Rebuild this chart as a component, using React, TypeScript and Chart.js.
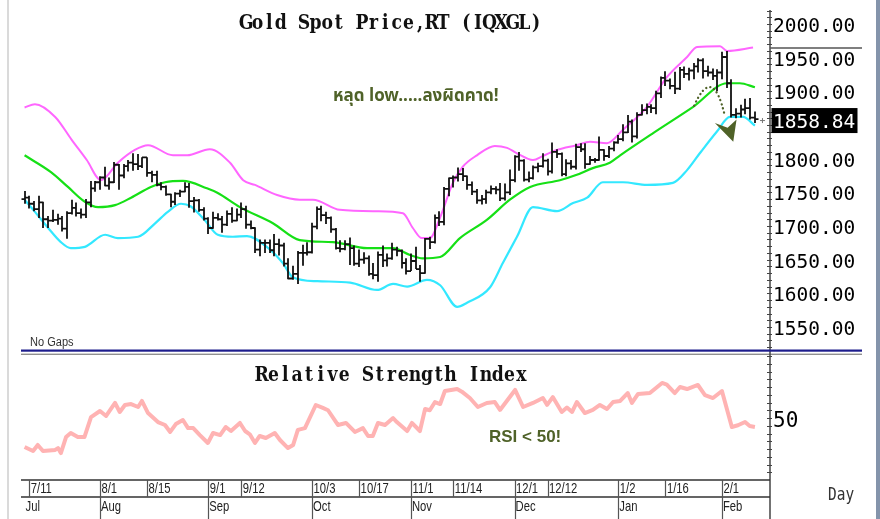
import React, { useEffect, useRef } from 'react';
import { Chart, registerables } from 'chart.js';
Chart.register(...registerables);

// ---- Daily OHLC (trading-day index 0 = 8 Jul 2022 ... 155 = 10 Feb 2023) ----
const opens = [
  1740,1742,1733,1725,1735,1710,1708,1709,1711,1696,
  1719,1727,1719,1717,1735,1756,1765,1772,1760,1765,
  1791,1775,1789,1794,1792,1789,1802,1779,1776,1761,
  1758,1747,1736,1748,1751,1758,1737,1738,1724,1711,
  1697,1712,1710,1702,1718,1708,1717,1725,1702,1697,
  1665,1675,1675,1664,1673,1671,1644,1622,1629,1660,
  1660,1661,1699,1725,1716,1712,1695,1667,1666,1673,
  1667,1644,1650,1652,1629,1627,1657,1649,1652,1665,
  1663,1645,1633,1648,1636,1630,1681,1676,1712,1706,
  1755,1771,1772,1777,1774,1761,1751,1738,1740,1750,
  1755,1754,1741,1750,1768,1803,1797,1769,1771,1787,
  1789,1797,1781,1810,1807,1777,1793,1788,1817,1814,
  1792,1798,1798,1813,1804,1815,1824,1829,1839,1855,
  1833,1865,1872,1877,1875,1897,1920,1916,1908,1904,
  1932,1926,1931,1937,1946,1930,1928,1923,1928,1951,
  1912,1865,1867,1873,1875,1861,
];
const highs = [
  1752,1745,1737,1745,1736,1715,1724,1718,1715,1722,
  1739,1735,1726,1740,1767,1767,1774,1788,1772,1795,
  1792,1792,1798,1808,1807,1802,1802,1782,1782,1765,
  1760,1748,1750,1754,1765,1764,1743,1740,1728,1713,
  1721,1719,1715,1723,1728,1726,1735,1730,1708,1698,
  1680,1680,1680,1688,1681,1675,1652,1641,1663,1672,
  1676,1705,1729,1730,1721,1714,1697,1679,1679,1683,
  1671,1665,1661,1656,1645,1662,1671,1659,1675,1669,
  1665,1652,1659,1669,1642,1682,1684,1717,1722,1758,
  1772,1775,1787,1786,1775,1766,1755,1746,1754,1760,
  1759,1764,1763,1784,1805,1810,1799,1781,1790,1794,
  1808,1800,1824,1814,1809,1799,1798,1822,1823,1823,
  1804,1801,1833,1814,1819,1826,1835,1851,1865,1858,
  1869,1881,1882,1881,1901,1922,1930,1919,1929,1936,
  1937,1935,1942,1949,1949,1938,1934,1933,1959,1960,
  1918,1875,1880,1889,1890,1870,
];
const lows = [
  1733,1726,1722,1712,1697,1697,1706,1702,1692,1681,
  1717,1714,1711,1712,1728,1751,1754,1759,1754,1764,
  1754,1771,1781,1782,1783,1786,1773,1765,1759,1753,
  1745,1728,1731,1743,1750,1727,1720,1721,1708,1688,
  1696,1708,1690,1700,1705,1707,1712,1696,1695,1660,
  1655,1660,1660,1655,1656,1640,1621,1620,1614,1641,
  1656,1659,1695,1707,1703,1690,1665,1661,1664,1642,
  1641,1639,1644,1626,1621,1617,1639,1640,1650,1655,
  1637,1628,1633,1636,1617,1629,1666,1674,1700,1701,
  1744,1757,1766,1767,1754,1746,1733,1732,1733,1747,
  1747,1737,1738,1746,1765,1782,1766,1765,1769,1780,
  1787,1775,1778,1801,1774,1774,1784,1784,1810,1785,
  1791,1794,1797,1797,1801,1811,1822,1826,1838,1824,
  1830,1864,1866,1868,1866,1890,1908,1903,1896,1902,
  1920,1916,1918,1928,1919,1922,1917,1900,1918,1905,
  1861,1860,1861,1866,1858,1853,
];
const closes = [
  1742,1733,1725,1735,1710,1708,1709,1711,1696,1719,
  1727,1719,1717,1735,1756,1765,1772,1760,1765,1791,
  1775,1789,1794,1792,1789,1802,1779,1776,1761,1758,
  1747,1736,1748,1751,1758,1737,1738,1724,1711,1697,
  1712,1710,1702,1718,1708,1717,1725,1702,1697,1665,
  1675,1675,1664,1673,1671,1644,1622,1629,1660,1660,
  1661,1699,1725,1716,1712,1695,1667,1666,1673,1667,
  1644,1650,1652,1629,1627,1657,1649,1652,1665,1663,
  1645,1633,1648,1636,1630,1681,1676,1712,1706,1755,
  1771,1772,1777,1774,1761,1751,1738,1740,1750,1755,
  1754,1741,1750,1768,1803,1797,1769,1771,1787,1789,
  1797,1781,1810,1807,1777,1793,1788,1817,1814,1792,
  1798,1798,1813,1804,1815,1824,1829,1839,1855,1833,
  1865,1872,1877,1875,1897,1920,1916,1908,1904,1932,
  1926,1931,1937,1946,1930,1928,1923,1928,1951,1912,
  1865,1867,1873,1875,1861,1858.84,
];

// ---- Bollinger bands, read at sample days ----
const upperIdx = [0,2.2,6.5,10,13.2,16.2,19.8,23.4,26.2,31.5,34.5,39.3,43.6,46.4,48.9,53.6,58.4,61.2,66.9,74.8,80.3,82.4,84.3,86,88.2,90.9,93,96,99.8,102.4,104.5,107.9,110,113,117.2,120,123.6,127,132.1,136.3,140.6,142.7,147.6,149.1,154.6];
const upperVal = [1876,1881,1862,1828,1798,1768,1794,1813,1820,1805,1805,1814,1794,1768,1761,1746,1739,1739,1724,1722,1719,1697,1682,1682,1713,1764,1788,1805,1819,1816,1808,1798,1804,1813,1820,1825,1823,1843,1877,1921,1951,1966,1967,1960,1965];
const midIdx = [0,5.6,9.2,12.8,15.6,19.2,22.6,26.8,29.8,33.6,38.7,41,45.7,52.7,58.4,65.4,72.7,78.2,81.8,84.5,88.2,92.4,98.1,103,107.3,113.6,117.2,120.6,124.2,126.4,133.4,141.9,149.1,151.8,155];
const midVal = [1805,1780,1758,1736,1728,1731,1742,1758,1765,1767,1756,1749,1728,1704,1679,1676,1667,1667,1657,1652,1654,1682,1709,1739,1758,1768,1776,1786,1794,1805,1838,1877,1912,1912,1906];
const lowIdx = [0,2.2,5,7.7,9.8,12.8,17.1,19.8,24.1,27.7,30.4,33.2,35.3,38.3,41,44.2,47.2,51.4,54.8,56.9,62.1,69.1,74.8,78.2,81.2,85.4,88.2,91.8,93.9,98.8,101.5,104.5,107.9,113,116.4,119.4,122.7,127,132.1,137.6,140.6,143.3,146.9,149.7,152.5,155];
const lowVal = [1739,1721,1697,1676,1667,1669,1687,1682,1684,1704,1721,1733,1729,1708,1687,1684,1685,1669,1645,1624,1618,1616,1605,1614,1610,1620,1612,1580,1586,1609,1645,1684,1728,1722,1734,1742,1765,1765,1761,1764,1783,1808,1840,1862,1862,1849];

// ---- RSI, read at sample days ----
const rsiIdx = [0,1.8,2.8,3.9,6.5,7.1,7.7,8.8,9.8,11.3,12.7,14.1,16,17.3,19.2,20.2,21.3,22.6,24.1,24.9,26.2,28.3,29.8,30.9,32.1,33.6,34.7,35.8,37.2,38.9,40,41.5,42.7,43.8,45.7,46.8,47.8,48.9,49.9,51.2,53.1,54.2,55.9,57,58,59.5,61.8,63.3,64.4,66.5,68.2,70.1,71.8,72.9,73.9,75,76.5,78.2,79,81.2,82.2,83.9,85,86,87.1,88.2,89.2,91.8,92.8,94.5,96.2,98.1,99.8,100.9,104.1,105.8,107.9,110,110.9,112.1,114,115.1,116.2,117.2,118.9,120.6,122.1,123.6,124.9,126.4,128,128.9,130.2,132.7,135.3,136.3,138,139.1,140.6,142.9,144.4,146.1,148,150.1,151.4,152.9,153.9,155];
const rsiVal = [31.3,28.7,32.6,28.7,29.4,30.6,27.4,37.7,40.3,37.7,37.7,50.6,54.5,51.3,59.7,53.9,58.4,59,57.1,61,53.2,47.4,45.5,41,46.1,48.7,43.5,43.5,39,33.9,40.3,39,44.2,41.6,46.8,41.6,39.5,33.9,38.4,37.1,40.3,35.8,30.6,32.6,42.3,43.5,58.4,56.5,55,45.5,46.8,41,43.5,38.4,38.4,46.8,45.5,50,47.4,41.6,46.8,41.6,55.8,55,60.3,59,67.4,68.7,67,62.9,57.1,59.7,60.3,55.2,68.1,57.1,59.7,62.9,58.5,63.5,53.9,56.8,53.9,60.3,53.2,55.2,58.4,55.8,60.3,61,66.1,59.7,65.5,66.1,72.6,71.5,66.1,70,68.7,71.3,64.8,62.9,67.4,44.2,45.3,47.4,44.8,44.2];

// ---- axes ----
const priceTicks = [1550,1600,1650,1700,1750,1800,1900,1950,2000];
const rsiTicks = [50];
const lastPrice = 1858.84;
const markerLevel = 1964.5;
const dateTickIdx = [1,16,26,39,46,61,71,82,91,104,111,126,136,148];
const dateTickLabels = ['7/11','8/1','8/15','9/1','9/12','10/3','10/17','11/1','11/14','12/1','12/12','1/2','1/16','2/1'];
const monthTickIdx = [0,16,39,61,82,104,126,148];
const monthLabels = ['Jul','Aug','Sep','Oct','Nov','Dec','Jan','Feb'];

// ---- annotations (day index, price) ----
const arcStart = [142.1, 1878.7];
const arcPeak = [145.7, 1906];
const arcEnd = [148.6, 1864];
const arrowPts = [[146.5,1853],[149.2,1846],[151.1,1858],[150.4,1825]];

const X_MIN = -0.76;
const X_MAX = 158.2;
const OLIVE = '#4f6228';

function monoText(ctx: any, text: string, cx: number, baseline: number, pitch: number, font: string, sx: number) {
  ctx.save();
  ctx.font = font;
  ctx.textAlign = 'center';
  ctx.textBaseline = 'alphabetic';
  ctx.fillStyle = '#111';
  const start = cx - (pitch * text.length) / 2;
  for (let i = 0; i < text.length; i++) {
    const ch = text[i];
    if (ch === ' ') continue;
    ctx.save();
    ctx.translate(start + pitch * (i + 0.5), baseline);
    ctx.scale(sx, 1);
    ctx.fillText(ch, 0, 0);
    ctx.restore();
  }
  ctx.restore();
}

function narrowText(ctx: any, text: string, x: number, y: number, font: string, sx: number, color: string) {
  ctx.save();
  ctx.font = font;
  ctx.textAlign = 'left';
  ctx.textBaseline = 'middle';
  ctx.fillStyle = color;
  ctx.translate(x, y);
  ctx.scale(sx, 1);
  ctx.fillText(text, 0, 0);
  ctx.restore();
}

function frame(chart: any) {
  const { ctx, height } = chart;
  ctx.save();
  ctx.fillStyle = '#dadada';
  ctx.fillRect(7, 0, 2, height);
  ctx.fillStyle = '#8494ab';
  ctx.fillRect(876, 0, 4, height);
  ctx.restore();
}

const whiteBg = {
  id: 'whiteBg',
  beforeDraw(chart: any) {
    const { ctx, width, height } = chart;
    ctx.save();
    ctx.fillStyle = '#fff';
    ctx.fillRect(0, 0, width, height);
    ctx.restore();
  },
};

const priceDecor = {
  id: 'priceDecor',
  afterDatasetsDraw(chart: any) {
    const { ctx } = chart;
    const xs = chart.scales.x;
    const ys = chart.scales.y;
    ctx.save();
    ctx.strokeStyle = '#111';
    ctx.lineWidth = 1.8;
    ctx.beginPath();
    for (let i = 0; i < closes.length; i++) {
      const x = Math.round(xs.getPixelForValue(i));
      ctx.moveTo(x, ys.getPixelForValue(highs[i]));
      ctx.lineTo(x, ys.getPixelForValue(lows[i]));
      const yo = ys.getPixelForValue(opens[i]);
      ctx.moveTo(x - 3.5, yo);
      ctx.lineTo(x, yo);
      const yc = ys.getPixelForValue(closes[i]);
      ctx.moveTo(x, yc);
      ctx.lineTo(x + 3.5, yc);
    }
    ctx.stroke();
    ctx.restore();
  },
  afterDraw(chart: any) {
    const { ctx, chartArea: a, height } = chart;
    const xs = chart.scales.x;
    const ys = chart.scales.y;
    frame(chart);
    ctx.save();
    // axis line
    ctx.strokeStyle = '#444';
    ctx.lineWidth = 1.5;
    ctx.beginPath();
    ctx.moveTo(a.right, a.top + 2);
    ctx.lineTo(a.right, height);
    ctx.stroke();
    // minor ticks
    ctx.lineWidth = 1;
    ctx.beginPath();
    for (let v = 1520; v <= 2020; v += 10) {
      const y = Math.round(ys.getPixelForValue(v)) + 0.5;
      ctx.moveTo(a.right - 3, y);
      ctx.lineTo(a.right + 2, y);
    }
    ctx.stroke();
    // marker line across axis
    const ym = ys.getPixelForValue(markerLevel);
    ctx.strokeStyle = '#555';
    ctx.lineWidth = 1.5;
    ctx.beginPath();
    ctx.moveTo(a.right, ym);
    ctx.lineTo(862, ym);
    ctx.stroke();
    // last price box
    const yl = ys.getPixelForValue(lastPrice);
    ctx.fillStyle = '#000';
    ctx.fillRect(a.right + 1.5, yl - 11, 86, 25);
    ctx.fillStyle = '#fff';
    ctx.font = '19.5px "DejaVu Sans Mono", monospace';
    ctx.textAlign = 'left';
    ctx.textBaseline = 'middle';
    ctx.fillText(lastPrice.toFixed(2), a.right + 3, yl + 3.5);
    // small cross at last price
    const xp = xs.getPixelForValue(156.6);
    ctx.strokeStyle = '#777';
    ctx.lineWidth = 1;
    ctx.beginPath();
    ctx.moveTo(xp - 2.5, yl + 1.5);
    ctx.lineTo(xp + 2.5, yl + 1.5);
    ctx.moveTo(xp, yl - 1);
    ctx.lineTo(xp, yl + 4);
    ctx.stroke();
    // dotted arc
    const p0 = [xs.getPixelForValue(arcStart[0]), ys.getPixelForValue(arcStart[1])];
    const pk = [xs.getPixelForValue(arcPeak[0]), ys.getPixelForValue(arcPeak[1])];
    const p2 = [xs.getPixelForValue(arcEnd[0]), ys.getPixelForValue(arcEnd[1])];
    const cp = [2 * pk[0] - (p0[0] + p2[0]) / 2, 2 * pk[1] - (p0[1] + p2[1]) / 2];
    ctx.strokeStyle = OLIVE;
    ctx.lineWidth = 2.3;
    ctx.lineCap = 'round';
    ctx.setLineDash([0.1, 4.2]);
    ctx.beginPath();
    ctx.moveTo(p0[0], p0[1]);
    ctx.quadraticCurveTo(cp[0], cp[1], p2[0], p2[1]);
    ctx.stroke();
    ctx.setLineDash([]);
    // arrow head
    ctx.fillStyle = OLIVE;
    ctx.beginPath();
    arrowPts.forEach((p, i) => {
      const px = xs.getPixelForValue(p[0]);
      const py = ys.getPixelForValue(p[1]);
      if (i === 0) ctx.moveTo(px, py); else ctx.lineTo(px, py);
    });
    ctx.closePath();
    ctx.fill();
    // separator
    ctx.fillStyle = '#1c1c8c';
    ctx.fillRect(a.left, 349.5, 862 - a.left, 2.2);
    ctx.restore();
    // texts
    monoText(ctx, 'Gold Spot Price,RT (IQXGL)', 391, 29, 11.6, 'bold 20px "DejaVu Serif", serif', 0.86);
    ctx.save();
    ctx.fillStyle = OLIVE;
    ctx.font = 'bold 17px "Noto Sans Thai", "Noto Sans", "Liberation Sans", sans-serif';
    ctx.textAlign = 'left';
    ctx.textBaseline = 'alphabetic';
    ctx.fillText('หลุด low.....ลงผิดคาด!', 333, 101, 186);
    ctx.restore();
    narrowText(ctx, 'No Gaps', 30, 342.5, '12px "Liberation Sans", Arial, sans-serif', 0.92, '#333');
  },
};

const rsiDecor = {
  id: 'rsiDecor',
  afterDraw(chart: any) {
    const { ctx, chartArea: a, height } = chart;
    const xs = chart.scales.x;
    const ys = chart.scales.y;
    frame(chart);
    ctx.save();
    // gray separator line
    ctx.fillStyle = '#909090';
    ctx.fillRect(a.left, 1.6, 862 - a.left, 1.4);
    // axis line
    ctx.strokeStyle = '#444';
    ctx.lineWidth = 1.5;
    ctx.beginPath();
    ctx.moveTo(a.right, 0);
    ctx.lineTo(a.right, height);
    ctx.stroke();
    ctx.lineWidth = 1;
    ctx.beginPath();
    for (let v = 15; v <= 90; v += 5) {
      const y = Math.round(ys.getPixelForValue(v)) + 0.5;
      ctx.moveTo(a.right - 3, y);
      ctx.lineTo(a.right + 2, y);
    }
    ctx.stroke();
    // date axis
    const r1 = a.bottom;
    const r2 = a.bottom + 17;
    ctx.strokeStyle = '#333';
    ctx.lineWidth = 1.5;
    ctx.beginPath();
    ctx.moveTo(a.left, r1);
    ctx.lineTo(a.right, r1);
    ctx.moveTo(a.left, r2);
    ctx.lineTo(a.right, r2);
    ctx.stroke();
    ctx.lineWidth = 1.2;
    ctx.strokeStyle = '#555';
    ctx.beginPath();
    dateTickIdx.forEach((d) => {
      const x = Math.round(xs.getPixelForValue(d)) + 0.5;
      ctx.moveTo(x, r1);
      ctx.lineTo(x, r2);
    });
    monthTickIdx.forEach((d) => {
      if (d <= 0) return;
      const x = Math.round(xs.getPixelForValue(d)) + 0.5;
      ctx.moveTo(x, r2);
      ctx.lineTo(x, height);
    });
    ctx.stroke();
    ctx.restore();
    dateTickIdx.forEach((d, i) => {
      const x = xs.getPixelForValue(d) + 1.5;
      narrowText(ctx, dateTickLabels[i], x, r1 + 9, '15px "Liberation Sans", Arial, sans-serif', 0.75, '#222');
    });
    monthTickIdx.forEach((d, i) => {
      const x = Math.max(xs.getPixelForValue(d) + 1, a.left + 2);
      narrowText(ctx, monthLabels[i], x, r2 + 9.5, '15px "Liberation Sans", Arial, sans-serif', 0.75, '#222');
    });
    // titles
    monoText(ctx, 'Relative Strength Index', 391.5, 29, 11.8, 'bold 20px "DejaVu Serif", serif', 0.86);
    ctx.save();
    ctx.fillStyle = OLIVE;
    ctx.font = 'bold 17px "Liberation Sans", Arial, sans-serif';
    ctx.textAlign = 'left';
    ctx.textBaseline = 'alphabetic';
    ctx.fillText('RSI < 50!', 489, 90);
    ctx.restore();
    narrowText(ctx, 'Day', 828, 144, '17px "DejaVu Sans Mono", monospace', 0.85, '#333');
  },
};

const fitRight = (s: any) => {
  s.width = 110;
  s.paddingTop = 0;
  s.paddingBottom = 0;
};

export default function App() {
  const priceRef = useRef<HTMLCanvasElement>(null);
  const rsiRef = useRef<HTMLCanvasElement>(null);

  useEffect(() => {
    document.body.style.margin = '0';
    const line = (xsArr: number[], ysArr: number[]) => xsArr.map((x, i) => ({ x, y: ysArr[i] }));
    const axisFont = { family: '"DejaVu Sans Mono", monospace', size: 19.5 };

    const c1 = new Chart(priceRef.current as HTMLCanvasElement, {
      type: 'line',
      data: {
        datasets: [
          { data: line(upperIdx, upperVal), borderColor: '#ff66ff', borderWidth: 2, pointRadius: 0, cubicInterpolationMode: 'monotone' },
          { data: line(midIdx, midVal), borderColor: '#16e016', borderWidth: 2.2, pointRadius: 0, cubicInterpolationMode: 'monotone' },
          { data: line(lowIdx, lowVal), borderColor: '#33e8ff', borderWidth: 2.2, pointRadius: 0, cubicInterpolationMode: 'monotone' },
        ],
      },
      options: {
        responsive: false,
        maintainAspectRatio: false,
        animation: false,
        layout: { padding: { left: 21, top: 8, right: 0, bottom: 2 } },
        plugins: { legend: { display: false }, tooltip: { enabled: false } },
        scales: {
          x: { type: 'linear', min: X_MIN, max: X_MAX, display: false },
          y: {
            type: 'linear',
            position: 'right',
            min: 1515.8,
            max: 2023.8,
            afterFit: fitRight,
            afterBuildTicks: (s: any) => { s.ticks = priceTicks.map((v) => ({ value: v })); },
            grid: { display: false, drawTicks: false },
            border: { display: false },
            ticks: { padding: 3, labelOffset: 3, color: '#000', font: axisFont, callback: (v: any) => Number(v).toFixed(2) },
          },
        },
      } as any,
      plugins: [whiteBg, priceDecor],
    });

    const c2 = new Chart(rsiRef.current as HTMLCanvasElement, {
      type: 'line',
      data: {
        datasets: [
          { data: line(rsiIdx, rsiVal), borderColor: '#ffb3b3', borderWidth: 4, pointRadius: 0, tension: 0, borderJoinStyle: 'round' },
        ],
      },
      options: {
        responsive: false,
        maintainAspectRatio: false,
        animation: false,
        layout: { padding: { left: 21, top: 4, right: 0, bottom: 39 } },
        plugins: { legend: { display: false }, tooltip: { enabled: false } },
        scales: {
          x: { type: 'linear', min: X_MIN, max: X_MAX, display: false },
          y: {
            type: 'linear',
            position: 'right',
            min: 10,
            max: 90,
            afterFit: fitRight,
            afterBuildTicks: (s: any) => { s.ticks = rsiTicks.map((v) => ({ value: v })); },
            grid: { display: false, drawTicks: false },
            border: { display: false },
            ticks: { padding: 3, labelOffset: 3.5, color: '#000', font: { family: '"DejaVu Sans Mono", monospace', size: 21 }, callback: (v: any) => String(v) },
          },
        },
      } as any,
      plugins: [whiteBg, rsiDecor],
    });

    return () => { c1.destroy(); c2.destroy(); };
  }, []);

  return (
    <div style={{ position: 'relative', width: 880, height: 519, background: '#fff', overflow: 'hidden' }}>
      <style>{'body{margin:0}'}</style>
      <canvas ref={priceRef} width={880} height={352} style={{ position: 'absolute', left: 0, top: 0 }} />
      <canvas ref={rsiRef} width={880} height={167} style={{ position: 'absolute', left: 0, top: 352 }} />
    </div>
  );
}
